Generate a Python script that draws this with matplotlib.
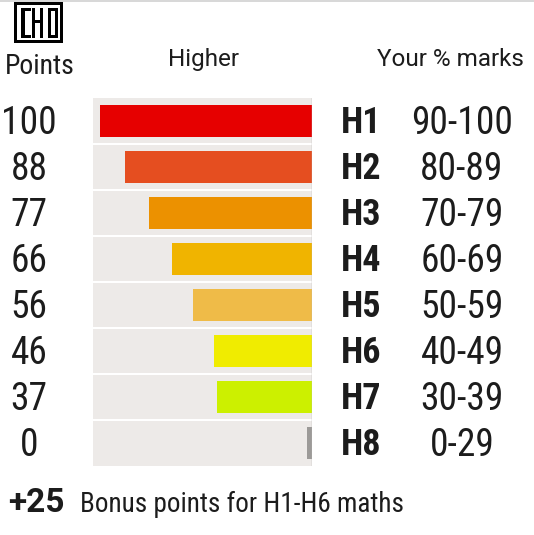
import matplotlib
matplotlib.use("Agg")
import matplotlib.pyplot as plt
from matplotlib import font_manager
from matplotlib.patches import Rectangle

# pick a narrow face if one is around
installed = {f.name for f in font_manager.fontManager.ttflist}
narrow = [f for f in ['Liberation Sans Narrow', 'Roboto Condensed',
                      'Open Sans Condensed', 'DejaVu Sans'] if f in installed]
plt.rcParams['font.family'] = narrow + ['DejaVu Sans']
plt.rcParams['font.stretch'] = 'condensed'
wide = ['Roboto', 'DejaVu Sans']

# data
grades = ['H1', 'H2', 'H3', 'H4', 'H5', 'H6', 'H7', 'H8']
points = [100, 88, 77, 66, 56, 46, 37, 0]
marks = ['90-100', '80-89', '70-79', '60-69', '50-59', '40-49', '30-39', '0-29']
bar_len = [100, 88, 77, 66, 56, 46, 45, 2.4]   # as drawn in the picture
colours = ['#e60000', '#e54e20', '#ec9100', '#f0b400', '#efbb48',
           '#f0ec00', '#ccf000', '#9c9a98']
bonus = '+25'
bonus_text = 'Bonus points for H1-H6 maths'

W, H = 534, 535
ink = '#1c1c1c'
fig = plt.figure(figsize=(W / 100, H / 100), dpi=100)


def fx(px):  # figure pixel -> fraction
    return px / W


def fy(py):
    return 1 - py / H


# bar panel
left, right, top, bottom = 93, 312, 98, 466
ax = fig.add_axes([fx(left), fy(bottom), fx(right - left), (bottom - top) / H])
ax.set_facecolor('#edeae8')
rows = range(len(grades))
ax.barh(rows, bar_len, height=0.7, color=colours, left=0)
ax.set_xlim(100 * (right - left) / 212, 0)
ax.set_ylim(len(grades) - 0.5, -0.5)
for y in range(1, len(grades)):
    ax.axhline(y - 0.5, color='white', lw=1.5)
ax.axvline(0, color='#b8b6b4', lw=1)
ax.set_xticks([])
ax.set_yticks([])
for s in ax.spines.values():
    s.set_visible(False)

tr = ax.get_yaxis_transform()
base = 0.29  # baseline sits a bit below the row centre
for i in rows:
    ax.text((29 - left) / (right - left), i + base, str(points[i]), transform=tr,
            ha='center', va='baseline', fontsize=27, color=ink)
    ax.text((341 - left) / (right - left), i + base - 0.02, grades[i],
            transform=tr, ha='left', va='baseline', fontsize=26,
            fontweight='bold', color=ink)
    ax.text((462 - left) / (right - left), i + base, marks[i], transform=tr,
            ha='center', va='baseline', fontsize=27, color=ink)

# headers
fig.text(fx(40), fy(74), 'Points', ha='center', va='baseline', fontsize=20,
         color=ink)
fig.text(fx(203), fy(66), 'Higher', ha='center', va='baseline', fontsize=17.5,
         family=wide, stretch='normal', color=ink)
fig.text(fx(450), fy(66), 'Your % marks', ha='center', va='baseline',
         fontsize=17.5, family=wide, stretch='normal', color=ink)

# bonus line
fig.text(fx(8), fy(512), bonus, ha='left', va='baseline', fontsize=24,
         fontweight='bold', family=wide, stretch='normal', color=ink)
fig.text(fx(80), fy(512), bonus_text, ha='left', va='baseline', fontsize=19.5,
         color=ink)

# top rule
fig.add_artist(Rectangle((0, fy(2)), 1, 2 / H, transform=fig.transFigure,
                         color='#d8d8d8', lw=0))


# logo, roughly
def box(x, y, w, h, c='black'):
    fig.add_artist(Rectangle((fx(x), fy(y + h)), w / W, h / H,
                             transform=fig.transFigure, color=c, lw=0))


box(14, 2, 49, 41)
box(17, 5, 43, 35, 'white')
box(21, 8, 4, 30)
box(25, 8, 6, 3)
box(25, 35, 6, 3)
box(32, 8, 3, 30)
box(35, 20, 5, 3)
box(40, 8, 3, 30)
box(48, 8, 10, 3)
box(48, 35, 10, 3)
box(48, 8, 3, 30)
box(55, 8, 3, 30)

fig.savefig('out.png', dpi=100)
